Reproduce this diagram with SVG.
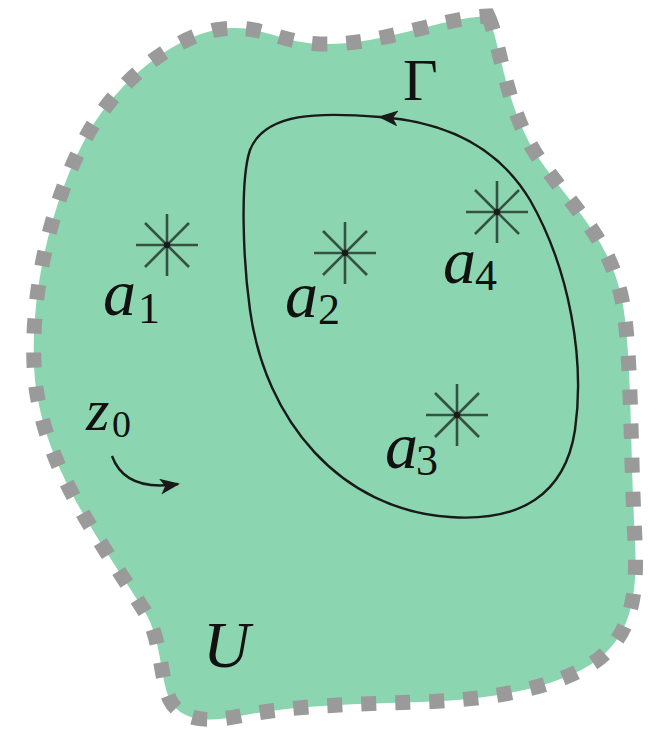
<svg xmlns="http://www.w3.org/2000/svg" width="654" height="730" viewBox="0 0 654 730">
<style>
.lbl{font-family:"Liberation Serif",serif;font-style:italic;fill:#111;}
.sub{font-family:"Liberation Serif",serif;fill:#111;}
.curve{fill:none;stroke:#1a1a1a;stroke-width:2.4;}
</style>
<defs>
<marker id="ah" markerWidth="20" markerHeight="16" refX="18" refY="8" orient="auto" markerUnits="userSpaceOnUse" viewBox="0 0 20 16">
<path d="M0,0 L20,8 L0,16 L5,8 Z" fill="#1a1a1a"/>
</marker>
<g id="star-shape" stroke="#2c4437" stroke-opacity="0.9" stroke-width="2.6">
<line x1="-31" y1="0" x2="31" y2="0"/>
<line x1="0" y1="-31" x2="0" y2="31"/>
<line x1="-22" y1="-22" x2="22" y2="22"/>
<line x1="-22" y1="22" x2="22" y2="-22"/>
<circle r="3.2" fill="#1a1a1a" stroke="none"/>
</g>
</defs>
<g id="region-U">
<path d="M 488 16 C 500 40, 505 110, 540 160 C 575 210, 610 240, 622 300 C 632 350, 630 450, 635 540 C 638 600, 630 640, 590 665 C 545 692, 480 700, 420 702 C 350 704, 290 706, 240 716 C 205 723, 180 720, 170 700 C 160 680, 162 640, 145 612 C 100 540, 45 470, 35 380 C 28 300, 50 200, 90 130 C 120 80, 170 40, 215 30 C 260 22, 275 42, 320 44 C 380 46, 440 18, 488 16 Z" fill="#8bd6b0" stroke="#9a9a9a" stroke-width="15" stroke-dasharray="15 19"/>
<text class="lbl" x="203" y="667" font-size="65">U</text>
</g>
<g id="connectors">
<path id="gamma" class="curve" d="M 380 117 C 320 112, 265 112, 250 150 C 240 180, 243 260, 250 310 C 265 420, 340 510, 450 517 C 520 522, 565 495, 575 430 C 585 360, 570 270, 530 200 C 500 150, 450 122, 380 117 Z" marker-start="url(#ah)"/>
<path id="z0-arrow" class="curve" d="M 112 456 Q 125 492 178 484" marker-end="url(#ah)"/>
</g>
<g id="gamma-label"><text x="403" y="100" font-family="Liberation Serif,serif" font-size="60" fill="#111">Γ</text></g>
<g id="a1"><use href="#star-shape" x="167" y="245"/><text class="lbl" x="103" y="315" font-size="66">a</text><text class="sub" x="138" y="323" font-size="44">1</text></g>
<g id="a2"><use href="#star-shape" x="345" y="253"/><text class="lbl" x="285" y="317" font-size="66">a</text><text class="sub" x="318" y="324" font-size="44">2</text></g>
<g id="a4"><use href="#star-shape" x="497" y="212"/><text class="lbl" x="443" y="283" font-size="66">a</text><text class="sub" x="475" y="290" font-size="44">4</text></g>
<g id="a3"><use href="#star-shape" x="457" y="415"/><text class="lbl" x="385" y="468" font-size="66">a</text><text class="sub" x="416" y="475" font-size="44">3</text></g>
<g id="z0"><text class="lbl" x="86" y="430" font-size="60">z</text><text class="sub" x="112" y="437" font-size="38">0</text></g>
</svg>
